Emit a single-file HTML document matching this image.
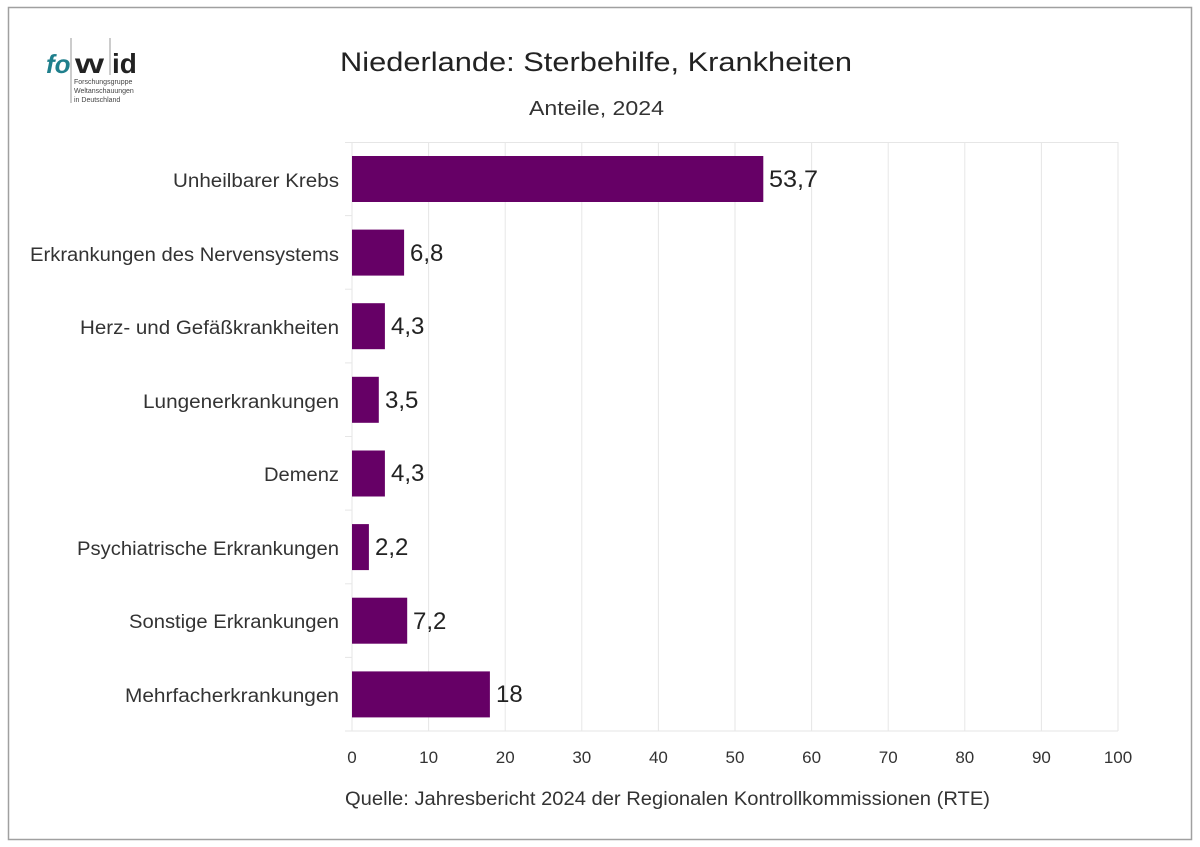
<!DOCTYPE html>
<html><head><meta charset="utf-8"><style>
html,body{margin:0;padding:0;background:#fff}
svg{display:block;font-family:"Liberation Sans",sans-serif}
</style></head><body>
<svg width="1200" height="847" viewBox="0 0 1200 847">
<rect x="8.5" y="7.5" width="1183" height="832" fill="#fff" stroke="#a0a0a0" stroke-width="1.5"/>
<!-- logo -->
<text x="46" y="73" font-size="26" font-weight="bold" font-style="italic" fill="#1f7f8c">fo</text>
<line x1="71" y1="38" x2="71" y2="103" stroke="#999" stroke-width="1"/>
<line x1="110" y1="38" x2="110" y2="75" stroke="#999" stroke-width="1"/>
<text x="75" y="73" font-size="28" font-weight="bold" fill="#222" textLength="29" lengthAdjust="spacingAndGlyphs">w</text>
<text x="112" y="73" font-size="28" font-weight="bold" fill="#222">id</text>
<text x="74" y="84" font-size="7" fill="#444">Forschungsgruppe</text>
<text x="74" y="93" font-size="7" fill="#444">Weltanschauungen</text>
<text x="74" y="102" font-size="7" fill="#444">in Deutschland</text>
<text x="340" y="71" font-size="27" fill="#222" textLength="512" lengthAdjust="spacingAndGlyphs">Niederlande: Sterbehilfe, Krankheiten</text>
<text x="529" y="115" font-size="20" fill="#333" textLength="135" lengthAdjust="spacingAndGlyphs">Anteile, 2024</text>
<!-- grid -->
<g stroke="#e6e6e6" stroke-width="1">
<line x1="345" y1="142.5" x2="1118" y2="142.5"/>
<line x1="428.6" y1="142" x2="428.6" y2="731"/><line x1="505.2" y1="142" x2="505.2" y2="731"/>
<line x1="581.8" y1="142" x2="581.8" y2="731"/><line x1="658.4" y1="142" x2="658.4" y2="731"/>
<line x1="735" y1="142" x2="735" y2="731"/><line x1="811.6" y1="142" x2="811.6" y2="731"/>
<line x1="888.2" y1="142" x2="888.2" y2="731"/><line x1="964.8" y1="142" x2="964.8" y2="731"/>
<line x1="1041.4" y1="142" x2="1041.4" y2="731"/><line x1="1118" y1="142" x2="1118" y2="731"/>
<line x1="352" y1="731" x2="1118" y2="731"/>
<line x1="352" y1="142" x2="352" y2="731"/>
<line x1="345" y1="215.6" x2="352" y2="215.6"/><line x1="345" y1="289.2" x2="352" y2="289.2"/>
<line x1="345" y1="362.9" x2="352" y2="362.9"/><line x1="345" y1="436.5" x2="352" y2="436.5"/>
<line x1="345" y1="510.1" x2="352" y2="510.1"/><line x1="345" y1="583.8" x2="352" y2="583.8"/>
<line x1="345" y1="657.4" x2="352" y2="657.4"/><line x1="345" y1="731" x2="352" y2="731"/>
</g>
<g fill="#660066">
<rect x="352" y="156" width="411.3" height="46"/>
<rect x="352" y="229.6" width="52.1" height="46"/>
<rect x="352" y="303.2" width="32.9" height="46"/>
<rect x="352" y="376.8" width="26.8" height="46"/>
<rect x="352" y="450.5" width="32.9" height="46"/>
<rect x="352" y="524.1" width="16.9" height="46"/>
<rect x="352" y="597.7" width="55.2" height="46"/>
<rect x="352" y="671.4" width="137.9" height="46"/>
</g>
<g font-size="24" fill="#222">
<text x="769" y="187" textLength="49" lengthAdjust="spacingAndGlyphs">53,7</text>
<text x="410" y="261">6,8</text>
<text x="391" y="334">4,3</text>
<text x="385" y="408">3,5</text>
<text x="391" y="481">4,3</text>
<text x="375" y="555">2,2</text>
<text x="413" y="629">7,2</text>
<text x="496" y="702">18</text>
</g>
<g font-size="19" fill="#333">
<text x="173" y="187" textLength="166" lengthAdjust="spacingAndGlyphs">Unheilbarer Krebs</text>
<text x="30" y="261" textLength="309" lengthAdjust="spacingAndGlyphs">Erkrankungen des Nervensystems</text>
<text x="80" y="334" textLength="259" lengthAdjust="spacingAndGlyphs">Herz- und Gefäßkrankheiten</text>
<text x="143" y="408" textLength="196" lengthAdjust="spacingAndGlyphs">Lungenerkrankungen</text>
<text x="264" y="481" textLength="75" lengthAdjust="spacingAndGlyphs">Demenz</text>
<text x="77" y="555" textLength="262" lengthAdjust="spacingAndGlyphs">Psychiatrische Erkrankungen</text>
<text x="129" y="628" textLength="210" lengthAdjust="spacingAndGlyphs">Sonstige Erkrankungen</text>
<text x="125" y="702" textLength="214" lengthAdjust="spacingAndGlyphs">Mehrfacherkrankungen</text>
</g>
<g font-size="17" fill="#333" text-anchor="middle">
<text x="352" y="763">0</text><text x="428.6" y="763">10</text><text x="505.2" y="763">20</text>
<text x="581.8" y="763">30</text><text x="658.4" y="763">40</text><text x="735" y="763">50</text>
<text x="811.6" y="763">60</text><text x="888.2" y="763">70</text><text x="964.8" y="763">80</text>
<text x="1041.4" y="763">90</text><text x="1118" y="763">100</text>
</g>
<text x="345" y="805" font-size="19" fill="#333" textLength="645" lengthAdjust="spacingAndGlyphs">Quelle: Jahresbericht 2024 der Regionalen Kontrollkommissionen (RTE)</text>
</svg>
</body></html>
